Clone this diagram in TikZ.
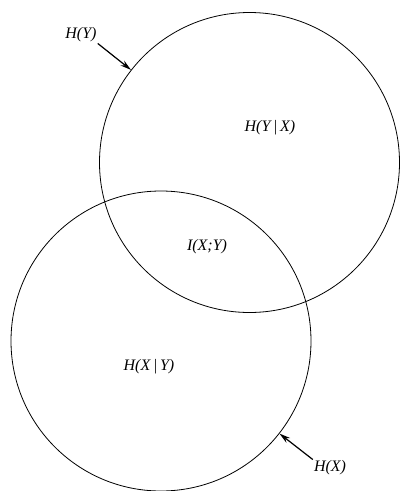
\documentclass[tikz,border=0pt]{standalone}
\usepackage{fontspec}
\setmainfont{Liberation Serif}
\usetikzlibrary{arrows.meta}
\tikzset{
  setcircle/.style={circle, draw, line width=0.8pt, minimum size=300pt, inner sep=0pt},
  lbl/.style={font=\fontsize{16}{18}\selectfont\itshape, inner sep=1pt},
  pointer/.style={line width=1.2pt, -{Stealth[length=11pt,width=6pt]}}
}
\begin{document}
\begin{tikzpicture}[x=1pt,y=-1pt]
  \useasboundingbox (0,0) rectangle (400,491);
  % the two entropy discs
  \node[setcircle] (cy) at (249.5,162.5) {};
  \node[setcircle] (cx) at (161,341) {};
  % region labels
  \node[lbl] (hyx) at (270,128) {H(Y\,|\,X)};
  \node[lbl] (ixy) at (207,247) {I(X;Y)};
  \node[lbl] (hxy) at (149,367) {H(X\,|\,Y)};
  % outer labels with pointers
  \node[lbl] (hy) at (81,35) {H(Y)};
  \node[lbl] (hx) at (330,468) {H(X)};
  \draw[pointer] (hy.south east) -- (cy.142.8);
  \draw[pointer] (hx.north west) -- (cx.-38.5);
\end{tikzpicture}
\end{document}
